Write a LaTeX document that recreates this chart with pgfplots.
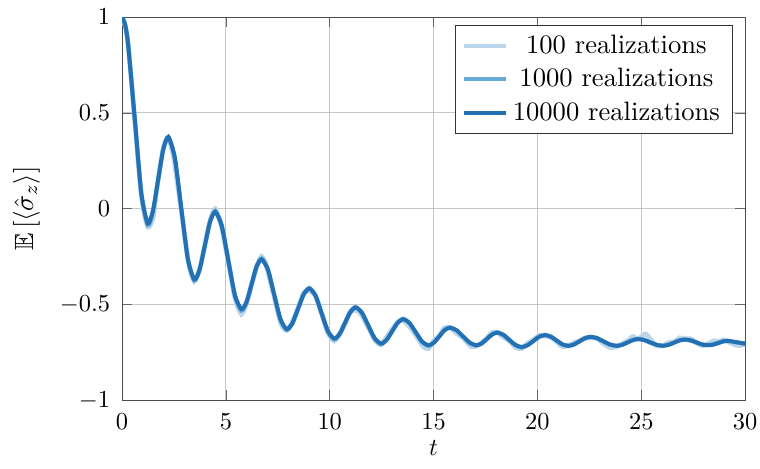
\documentclass[border=0pt]{standalone}
\usepackage{pgfplots}
\usepackage{pgfplotstable}
\usepackage{amssymb}
\pgfplotsset{compat=1.18}
\definecolor{cA}{RGB}{187,214,234}
\definecolor{cB}{RGB}{104,170,214}
\definecolor{cC}{RGB}{36,112,180}
\pgfplotstableread{
t y
0 1.0
0.15 0.96
0.3 0.85
0.62 0.46
0.93 0.08
1.24 -0.077
1.4875 -0.011
1.735 0.149
1.9825 0.309
2.23 0.375
2.5425 0.266
2.855 0.0
3.1675 -0.261
3.48 -0.37
3.7325 -0.318
3.985 -0.194
4.2375 -0.069
4.49 -0.017
4.805 -0.091
5.12 -0.271
5.435 -0.451
5.75 -0.525
5.9925 -0.487
6.235 -0.395
6.4775 -0.303
6.72 -0.265
7.0225 -0.318
7.325 -0.447
7.6275 -0.576
7.93 -0.629
8.2025 -0.598
8.475 -0.523
8.7475 -0.448
9.02 -0.417
9.32 -0.455
9.62 -0.548
9.92 -0.640
10.22 -0.678
10.4775 -0.654
10.735 -0.597
10.9925 -0.540
11.25 -0.516
11.555 -0.544
11.86 -0.61
12.165 -0.676
12.47 -0.704
12.7375 -0.685
13.005 -0.64
13.2725 -0.596
13.54 -0.577
13.8425 -0.597
14.145 -0.645
14.4475 -0.693
14.75 -0.713
15.01 -0.70
15.27 -0.668
15.53 -0.635
15.79 -0.622
16.1125 -0.635
16.435 -0.668
16.7575 -0.70
17.08 -0.713
17.3275 -0.703
17.575 -0.68
17.8225 -0.657
18.07 -0.647
18.3625 -0.658
18.655 -0.685
18.9475 -0.711
19.24 -0.722
19.5225 -0.713
19.805 -0.691
20.0875 -0.669
20.37 -0.66
20.65 -0.668
20.93 -0.688
21.21 -0.708
21.49 -0.716
21.76 -0.709
22.03 -0.693
22.30 -0.676
22.57 -0.669
22.8825 -0.676
23.195 -0.693
23.5075 -0.709
23.82 -0.716
24.08 -0.711
24.34 -0.699
24.60 -0.686
24.86 -0.681
25.16 -0.686
25.46 -0.699
25.76 -0.711
26.06 -0.716
26.32 -0.711
26.58 -0.70
26.84 -0.688
27.1 -0.683
27.3825 -0.687
27.665 -0.698
27.9475 -0.709
28.23 -0.713
28.47 -0.710
28.71 -0.702
28.95 -0.693
29.19 -0.69
29.6 -0.697
30 -0.704
}\tenk
\pgfplotstableread{
t y
0 1.0
0.15 0.96
0.3 0.85
0.62 0.46
0.93 0.075
1.24 -0.085
1.4875 -0.016
1.735 0.146
1.9825 0.307
2.23 0.372
2.5425 0.264
2.855 -0.002
3.1675 -0.264
3.48 -0.374
3.7325 -0.320
3.985 -0.195
4.2375 -0.067
4.49 -0.012
4.805 -0.089
5.12 -0.273
5.435 -0.456
5.75 -0.532
5.9925 -0.490
6.235 -0.396
6.4775 -0.300
6.72 -0.260
7.0225 -0.315
7.325 -0.449
7.6275 -0.580
7.93 -0.633
8.2025 -0.600
8.475 -0.522
8.7475 -0.445
9.02 -0.414
9.32 -0.456
9.62 -0.552
9.92 -0.645
10.22 -0.682
10.4775 -0.655
10.735 -0.595
10.9925 -0.537
11.25 -0.513
11.555 -0.545
11.86 -0.613
12.165 -0.680
12.47 -0.707
12.7375 -0.686
13.005 -0.640
13.2725 -0.594
13.54 -0.575
13.8425 -0.598
14.145 -0.648
14.4475 -0.697
14.75 -0.716
15.01 -0.700
15.27 -0.666
15.53 -0.632
15.79 -0.620
16.1125 -0.636
16.435 -0.670
16.7575 -0.703
17.08 -0.715
17.3275 -0.702
17.575 -0.678
17.8225 -0.655
18.07 -0.646
18.3625 -0.660
18.655 -0.688
18.9475 -0.714
19.24 -0.724
19.5225 -0.712
19.805 -0.690
20.0875 -0.667
20.37 -0.659
20.65 -0.669
20.93 -0.690
21.21 -0.710
21.49 -0.717
21.76 -0.708
22.03 -0.691
22.30 -0.675
22.57 -0.670
22.8825 -0.678
23.195 -0.695
23.5075 -0.711
23.82 -0.716
24.08 -0.709
24.34 -0.697
24.60 -0.685
24.86 -0.680
25.16 -0.687
25.46 -0.701
25.76 -0.712
26.06 -0.715
26.32 -0.709
26.58 -0.698
26.84 -0.687
27.1 -0.684
27.3825 -0.689
27.665 -0.700
27.9475 -0.710
28.23 -0.712
28.47 -0.707
28.71 -0.699
28.95 -0.692
29.19 -0.691
29.6 -0.699
30 -0.706
}\onek
\pgfplotstableread{
t y
0 1.0
0.15 0.955
0.3 0.85
0.62 0.45
0.93 0.07
1.24 -0.095
1.5 -0.04
1.735 0.15
2.0 0.32
2.23 0.37
2.5 0.26
2.855 -0.01
3.2 -0.28
3.48 -0.378
3.75 -0.31
3.985 -0.19
4.25 -0.06
4.49 -0.002
4.8 -0.10
5.12 -0.28
5.45 -0.47
5.75 -0.55
6.0 -0.49
6.235 -0.40
6.5 -0.30
6.72 -0.25
6.95 -0.30
7.325 -0.46
7.65 -0.60
7.93 -0.635
8.2 -0.59
8.475 -0.52
8.75 -0.44
9.02 -0.43
9.3 -0.45
9.62 -0.55
9.9 -0.645
10.22 -0.69
10.5 -0.65
10.735 -0.60
11.0 -0.54
11.25 -0.53
11.5 -0.55
11.86 -0.62
12.2 -0.69
12.47 -0.71
12.75 -0.67
13.005 -0.63
13.3 -0.59
13.54 -0.585
13.8 -0.61
14.145 -0.66
14.5 -0.72
14.75 -0.73
15.0 -0.69
15.27 -0.665
15.5 -0.625
15.79 -0.62
16.1 -0.65
16.435 -0.675
16.8 -0.72
17.08 -0.715
17.3 -0.70
17.575 -0.675
17.8 -0.648
18.07 -0.645
18.35 -0.67
18.655 -0.69
18.95 -0.725
19.24 -0.73
19.5 -0.705
19.805 -0.685
20.1 -0.662
20.37 -0.665
20.65 -0.67
20.93 -0.695
21.2 -0.72
21.49 -0.715
21.75 -0.70
22.03 -0.69
22.3 -0.675
22.57 -0.675
22.85 -0.675
23.195 -0.705
23.5 -0.725
23.82 -0.72
24.1 -0.705
24.34 -0.69
24.6 -0.668
24.86 -0.68
25.2 -0.655
25.46 -0.685
25.75 -0.715
26.06 -0.715
26.3 -0.70
26.58 -0.695
26.85 -0.675
27.1 -0.68
27.4 -0.68
27.665 -0.70
27.95 -0.715
28.23 -0.705
28.5 -0.69
28.71 -0.695
29.0 -0.685
29.19 -0.695
29.5 -0.71
29.75 -0.715
30 -0.705
}\hund
\begin{document}
\begin{tikzpicture}
\begin{axis}[
  scale only axis,
  width=255.3pt, height=157pt,
  xmin=0, xmax=30, ymin=-1, ymax=1,
  xtick={0,5,...,30}, ytick={-1,-0.5,0,0.5,1},
  grid=major,
  major grid style={black!22, line width=0.4pt},
  axis line style={black!70},
  tick style={black!60},
  xticklabel style={yshift=-2.2pt},
  yticklabel style={xshift=-1.4pt},
  xlabel={$t$},
  ylabel={$\mathbb{E}\,\bigl[\langle\hat{\sigma}_z\rangle\bigr]$},
  every axis x label/.style={at={(axis description cs:0.5,-0.1255)}, anchor=center},
  every axis y label/.style={at={(axis description cs:-0.154,0.5)}, rotate=90, anchor=center, font=\fontsize{10.8}{13}\selectfont},
  legend cell align=center,
  legend style={at={(0.98,0.98)}, anchor=north east, draw=black!80,
    font=\fontsize{10.9}{13}\selectfont, row sep=0.6pt},
  legend image post style={line width=1.6pt},
]
\addplot[cA, line width=2.0pt, smooth, tension=0.4] table[x=t, y=y] {\hund};
\addlegendentry{100 realizations}
\addplot[cB, line width=1.7pt, smooth, tension=0.4] table[x=t, y=y] {\onek};
\addlegendentry{1000 realizations}
\addplot[cC, line width=1.6pt, smooth, tension=0.4] table[x=t, y=y] {\tenk};
\addlegendentry{10000 realizations}
\end{axis}
\pgfresetboundingbox
\path[use as bounding box] ([xshift=-50pt,yshift=-27.9pt]current axis.south west) rectangle ([xshift=6.1pt,yshift=7pt]current axis.north east);
\end{tikzpicture}
\end{document}
